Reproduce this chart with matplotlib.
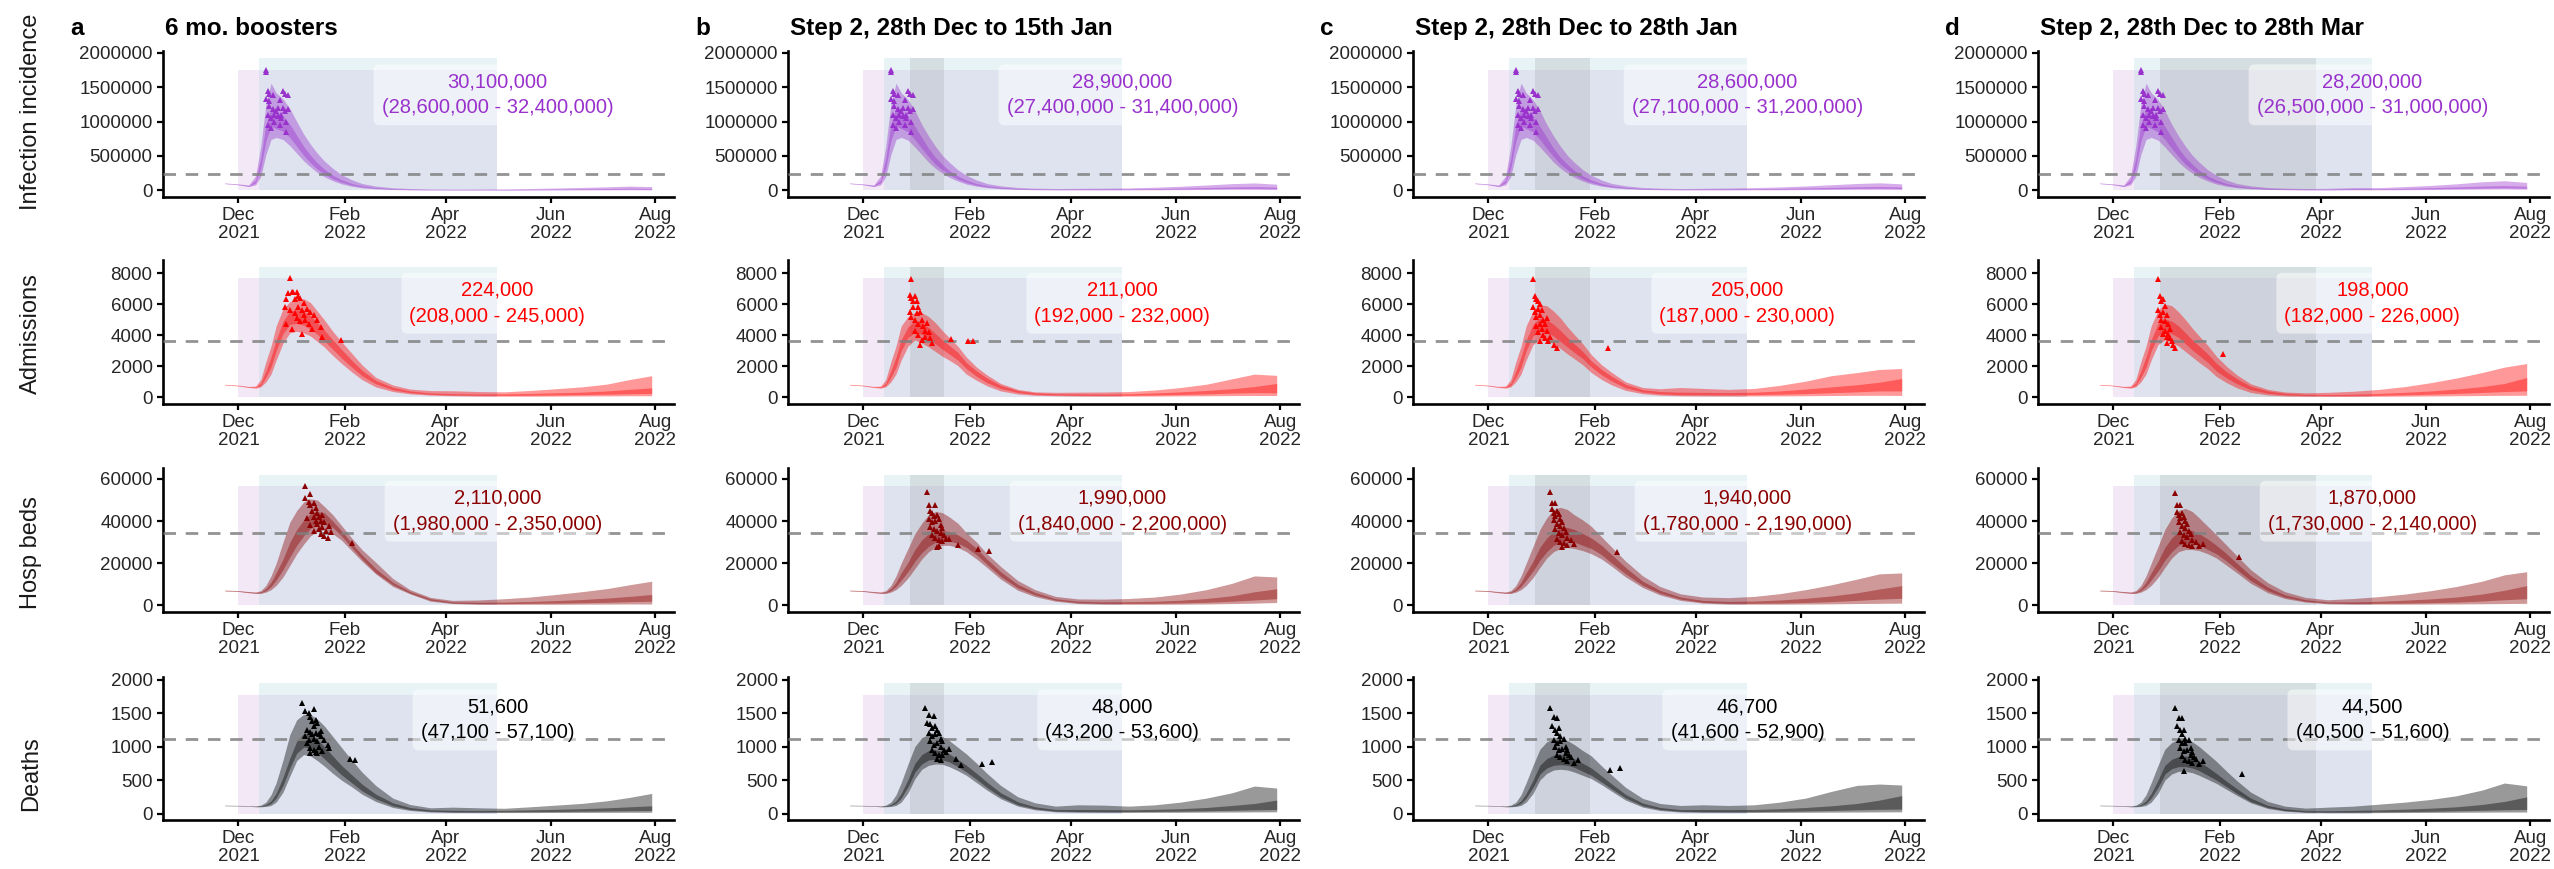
import matplotlib
matplotlib.use("Agg")
import matplotlib.pyplot as plt
import matplotlib.dates as mdates
from matplotlib.ticker import FixedLocator, FuncFormatter
import numpy as np

plt.rcParams['font.family'] = ['Liberation Sans', 'DejaVu Sans']

# Projections of the Omicron wave under four booster / step 2 scenarios.
# Ribbons: 95% (outer) and 50% (inner) intervals at knot days after 1 Dec 2021.
start = np.datetime64('2021-12-01')
days = [-8, 0, 6, 10, 13, 16, 19, 22, 26, 30, 34, 38, 42, 46, 50, 55,
        60, 66, 72, 80, 90, 100, 112, 125, 140, 155, 170, 185, 200, 215, 228, 241]

titles = ["6 mo. boosters", "Step 2, 28th Dec to 15th Jan",
          "Step 2, 28th Dec to 28th Jan", "Step 2, 28th Dec to 28th Mar"]
letters = ["a", "b", "c", "d"]
row_names = ["Infection incidence", "Admissions", "Hosp beds", "Deaths"]
# step 2 restriction periods (none for panel a)
step2 = [None, ('2021-12-28', '2022-01-17'), ('2021-12-28', '2022-01-29'),
         ('2021-12-28', '2022-03-29')]

# infections (thousands): lo95, lo50, hi50, hi95
inf_a = [
    [98, 80, 55, 80, 200, 520, 740, 770, 740, 650, 540, 430, 340, 260, 200, 140, 95, 60, 38, 22, 12, 7, 5, 4, 4, 4, 5, 6, 7, 8, 9, 8],
    [100, 84, 60, 110, 320, 720, 930, 900, 860, 770, 640, 510, 400, 310, 240, 170, 120, 78, 50, 30, 17, 11, 8, 7, 7, 7, 9, 11, 13, 15, 17, 15],
    [104, 88, 68, 150, 460, 960, 1200, 1150, 1080, 960, 800, 640, 510, 400, 310, 220, 155, 100, 65, 40, 24, 16, 12, 11, 11, 12, 15, 18, 22, 27, 32, 28],
    [108, 94, 78, 210, 640, 1250, 1560, 1420, 1330, 1190, 1000, 820, 670, 540, 430, 320, 230, 155, 100, 62, 38, 27, 21, 19, 20, 22, 27, 34, 42, 52, 62, 55],
]
inf_b = [
    [98, 80, 55, 80, 200, 520, 740, 770, 730, 630, 520, 410, 320, 250, 190, 135, 92, 60, 40, 24, 14, 9, 7, 7, 7, 7, 9, 11, 13, 15, 15, 12],
    [100, 84, 60, 110, 320, 720, 930, 900, 850, 740, 610, 490, 380, 300, 230, 165, 115, 76, 50, 32, 19, 13, 10, 11, 11, 12, 15, 19, 23, 27, 28, 24],
    [104, 88, 68, 150, 460, 960, 1200, 1150, 1070, 930, 770, 610, 480, 380, 290, 210, 150, 98, 66, 43, 27, 19, 15, 17, 18, 20, 26, 33, 42, 50, 55, 48],
    [108, 94, 78, 210, 640, 1250, 1560, 1420, 1320, 1160, 960, 790, 640, 510, 410, 300, 220, 150, 100, 66, 42, 32, 27, 30, 32, 36, 46, 60, 78, 98, 108, 90],
]
inf_c = [
    [98, 80, 55, 80, 200, 520, 740, 770, 730, 630, 520, 410, 320, 250, 190, 135, 92, 60, 40, 24, 14, 9, 7, 7, 7, 8, 9, 11, 13, 15, 16, 13],
    [100, 84, 60, 110, 320, 720, 930, 900, 850, 740, 610, 490, 380, 300, 230, 165, 115, 76, 50, 32, 19, 13, 10, 11, 12, 13, 16, 20, 24, 28, 30, 26],
    [104, 88, 68, 150, 460, 960, 1200, 1150, 1070, 930, 770, 610, 480, 380, 290, 210, 150, 98, 66, 43, 27, 19, 15, 17, 19, 22, 28, 36, 44, 52, 57, 50],
    [108, 94, 78, 210, 640, 1250, 1560, 1420, 1320, 1160, 960, 790, 640, 510, 410, 300, 220, 150, 100, 66, 42, 32, 27, 30, 34, 40, 50, 64, 82, 100, 110, 95],
]
inf_d = [
    [98, 80, 55, 80, 200, 520, 740, 770, 730, 630, 520, 410, 320, 250, 190, 135, 92, 60, 40, 24, 14, 9, 6, 6, 8, 8, 10, 12, 15, 18, 20, 16],
    [100, 84, 60, 110, 320, 720, 930, 900, 850, 740, 610, 490, 380, 300, 230, 165, 115, 76, 50, 32, 19, 13, 10, 10, 13, 13, 17, 22, 27, 32, 36, 30],
    [104, 88, 68, 150, 460, 960, 1200, 1150, 1070, 930, 770, 610, 480, 380, 290, 210, 150, 98, 66, 43, 27, 19, 15, 16, 22, 22, 30, 40, 50, 62, 70, 60],
    [108, 94, 78, 210, 640, 1250, 1560, 1420, 1320, 1160, 960, 790, 640, 510, 410, 300, 220, 150, 100, 66, 42, 32, 27, 30, 40, 40, 55, 72, 95, 125, 140, 115],
]

# hospital admissions
adm_a = [
    [800, 740, 640, 600, 680, 1000, 1500, 2400, 3500, 4150, 4250, 4150, 3950, 3600, 3250, 2700, 2200, 1650, 1150, 680, 380, 230, 150, 110, 90, 80, 80, 85, 95, 100, 110, 110],
    [815, 755, 660, 630, 780, 1300, 1950, 3000, 4100, 4700, 4750, 4650, 4400, 4050, 3650, 3100, 2550, 1950, 1400, 880, 500, 310, 200, 160, 140, 130, 140, 160, 180, 210, 240, 260],
    [830, 770, 680, 670, 920, 1700, 2600, 3700, 4900, 5550, 5650, 5550, 5250, 4800, 4350, 3700, 3100, 2400, 1750, 1100, 650, 420, 290, 250, 230, 230, 260, 300, 340, 420, 520, 620],
    [845, 790, 710, 730, 1150, 2300, 3300, 4600, 5700, 6150, 6350, 6350, 6100, 5550, 5000, 4250, 3600, 2850, 2100, 1300, 800, 540, 440, 430, 380, 360, 450, 560, 680, 860, 1150, 1400],
]
adm_b = [
    [800, 740, 640, 600, 680, 1000, 1500, 2400, 3300, 3700, 3500, 3250, 2950, 2650, 2400, 2050, 1500, 1100, 750, 420, 220, 140, 110, 95, 85, 85, 90, 100, 110, 120, 125, 125],
    [815, 755, 660, 630, 780, 1300, 1950, 3000, 3850, 4200, 4050, 3800, 3450, 3100, 2800, 2400, 1850, 1350, 950, 580, 320, 200, 160, 140, 130, 140, 160, 190, 230, 280, 310, 300],
    [830, 770, 680, 670, 920, 1700, 2600, 3700, 4550, 4900, 4800, 4500, 4100, 3700, 3350, 2900, 2250, 1700, 1250, 780, 450, 300, 240, 230, 220, 240, 290, 360, 450, 560, 700, 900],
    [845, 790, 710, 730, 1150, 2300, 3300, 4600, 5200, 5450, 5450, 5200, 4800, 4300, 3850, 3300, 2600, 1950, 1450, 900, 520, 360, 330, 340, 350, 380, 480, 640, 850, 1200, 1500, 1420],
]
adm_c = [
    [800, 740, 640, 600, 680, 1000, 1500, 2400, 3400, 3750, 3650, 3450, 3150, 2800, 2500, 2100, 1600, 1150, 800, 450, 240, 150, 110, 100, 95, 95, 100, 110, 125, 135, 140, 130],
    [815, 755, 660, 630, 780, 1300, 1950, 3000, 3950, 4300, 4200, 3950, 3600, 3250, 2900, 2500, 1950, 1450, 1050, 620, 350, 230, 180, 170, 165, 180, 210, 250, 300, 360, 420, 420],
    [830, 770, 680, 670, 920, 1700, 2600, 3700, 4700, 5100, 5000, 4700, 4300, 3850, 3450, 2950, 2350, 1800, 1350, 840, 500, 380, 340, 330, 310, 340, 420, 540, 680, 820, 980, 1220],
    [845, 790, 710, 730, 1150, 2300, 3300, 4600, 5550, 5950, 5900, 5550, 5100, 4550, 4050, 3450, 2750, 2100, 1600, 1000, 640, 560, 640, 580, 520, 580, 780, 1050, 1400, 1600, 1800, 1860],
]
adm_d = [
    [800, 740, 640, 600, 680, 1000, 1500, 2400, 3400, 3700, 3550, 3300, 2950, 2600, 2250, 1850, 1350, 950, 620, 320, 160, 100, 80, 70, 70, 75, 85, 95, 110, 125, 135, 140],
    [815, 755, 660, 630, 780, 1300, 1950, 3000, 3950, 4250, 4100, 3850, 3450, 3050, 2700, 2250, 1700, 1250, 880, 500, 270, 170, 130, 115, 120, 140, 170, 210, 260, 320, 380, 420],
    [830, 770, 680, 670, 920, 1700, 2600, 3700, 4750, 5050, 4900, 4600, 4150, 3700, 3300, 2800, 2200, 1650, 1200, 720, 420, 270, 200, 190, 210, 260, 330, 420, 540, 700, 900, 1280],
    [845, 790, 710, 730, 1150, 2300, 3300, 4600, 5600, 6000, 5900, 5500, 5000, 4450, 3950, 3350, 2650, 2000, 1450, 880, 520, 350, 300, 330, 400, 520, 700, 950, 1250, 1600, 1950, 2180],
]

# hospital beds occupied
bed_a = [
    [6900, 6600, 6000, 5700, 5700, 6300, 7500, 9500, 13500, 19000, 24500, 29000, 33000, 35000, 35800, 34000, 31000, 26000, 21000, 15000, 9000, 5500, 2000, 900, 600, 550, 550, 550, 600, 650, 700, 700],
    [7000, 6750, 6200, 5900, 6000, 7000, 9000, 12000, 17000, 23000, 28500, 33000, 36500, 38000, 38500, 37000, 33000, 27500, 22000, 15500, 9800, 5800, 2500, 1100, 800, 800, 1000, 1100, 1300, 1500, 1800, 2000],
    [7150, 6900, 6400, 6150, 6400, 8000, 11000, 15500, 22000, 30000, 36000, 40500, 43500, 44500, 44000, 40000, 35500, 29500, 24000, 17500, 11000, 6600, 3200, 1700, 1500, 1600, 1900, 2300, 2800, 3500, 4300, 5200],
    [7300, 7050, 6600, 6400, 7000, 9500, 14000, 20000, 30000, 39500, 45000, 49000, 50500, 50000, 47000, 43000, 38000, 32000, 26500, 20500, 12800, 7500, 3800, 2400, 2600, 3200, 4000, 5200, 6500, 8000, 9800, 11500],
]
bed_b = [
    [6900, 6600, 6000, 5700, 5700, 6300, 7500, 9500, 13000, 17500, 22000, 25500, 27500, 28500, 28500, 27500, 25500, 22000, 18000, 12500, 7200, 4200, 2000, 900, 600, 550, 550, 600, 700, 900, 1100, 1400],
    [7000, 6750, 6200, 5900, 6000, 7000, 9000, 12000, 16000, 21000, 25000, 28000, 30000, 30500, 30500, 29500, 27500, 24000, 19500, 13800, 8300, 5000, 2500, 1300, 950, 950, 1000, 1200, 1500, 2000, 2600, 3200],
    [7150, 6900, 6400, 6150, 6400, 8000, 11000, 15500, 20500, 26500, 31000, 34000, 35500, 35500, 35000, 33500, 31000, 27000, 22000, 16000, 10000, 6200, 3200, 2000, 1700, 1800, 2000, 2500, 3300, 4600, 6500, 7900],
    [7300, 7050, 6600, 6400, 7000, 9500, 14000, 20000, 27000, 34000, 39000, 43000, 44500, 44000, 42000, 39000, 34500, 30000, 24500, 18500, 11800, 7500, 4300, 3100, 3000, 3300, 4000, 5400, 7500, 10500, 14000, 13500],
]
bed_c = [
    [6900, 6600, 6000, 5700, 5700, 6300, 7500, 9500, 13200, 18000, 22500, 25500, 27000, 27500, 27000, 26000, 24500, 22000, 18500, 13500, 8500, 5000, 2400, 1100, 650, 600, 600, 650, 750, 900, 1000, 1100],
    [7000, 6750, 6200, 5900, 6000, 7000, 9000, 12000, 16300, 21500, 25500, 28500, 30000, 30500, 30000, 28500, 27000, 24000, 20000, 15000, 9500, 5800, 3000, 1500, 1000, 1000, 1150, 1400, 1800, 2400, 3000, 3400],
    [7150, 6900, 6400, 6150, 6400, 8000, 11000, 15500, 21000, 27500, 32000, 35000, 37000, 37000, 36000, 34000, 32000, 28500, 24000, 18000, 11500, 7200, 4000, 2400, 1900, 2100, 2600, 3400, 4500, 6000, 7800, 9400],
    [7300, 7050, 6600, 6400, 7000, 9500, 14000, 20000, 28000, 36000, 41500, 45500, 46500, 45500, 43000, 40500, 37500, 32500, 27500, 21000, 14000, 9000, 5500, 4000, 3700, 4300, 5600, 7500, 9800, 12500, 15000, 15400],
]
bed_d = [
    [6900, 6600, 6000, 5700, 5700, 6300, 7500, 9500, 13200, 18000, 22500, 25500, 26500, 26500, 26000, 24500, 22500, 19000, 15500, 10500, 6000, 3300, 1600, 800, 600, 600, 600, 650, 700, 800, 900, 1000],
    [7000, 6750, 6200, 5900, 6000, 7000, 9000, 12000, 16300, 21500, 25500, 28500, 29500, 29500, 28500, 26500, 24500, 21000, 17000, 11800, 7000, 3900, 2000, 1100, 900, 1000, 1100, 1300, 1600, 2100, 2700, 3200],
    [7150, 6900, 6400, 6150, 6400, 8000, 11000, 15500, 21000, 27500, 32000, 35000, 36000, 35500, 34000, 31500, 28500, 24500, 20000, 14200, 8700, 5000, 2700, 1700, 1700, 2000, 2500, 3100, 4000, 5400, 7200, 9400],
    [7300, 7050, 6600, 6400, 7000, 9500, 14000, 20000, 28000, 36000, 41500, 45000, 46000, 44500, 41500, 37500, 33500, 28500, 23500, 17000, 10800, 6500, 3800, 2700, 3300, 4200, 5400, 7000, 9000, 11500, 14500, 16000],
]

# deaths
dth_a = [
    [116, 114, 108, 100, 100, 105, 120, 170, 320, 560, 790, 880, 860, 790, 710, 600, 500, 400, 290, 180, 90, 45, 22, 15, 14, 14, 14, 15, 16, 17, 18, 18],
    [118, 116, 110, 103, 105, 118, 150, 230, 420, 680, 900, 990, 980, 910, 820, 700, 580, 460, 340, 220, 115, 60, 32, 25, 24, 25, 27, 30, 34, 38, 42, 45],
    [121, 119, 113, 107, 112, 135, 190, 300, 540, 830, 1080, 1190, 1190, 1110, 1000, 860, 720, 580, 440, 290, 160, 90, 55, 48, 45, 48, 55, 62, 72, 85, 100, 115],
    [124, 122, 116, 112, 125, 170, 280, 460, 800, 1180, 1400, 1480, 1480, 1410, 1310, 1150, 990, 800, 620, 420, 230, 135, 85, 95, 85, 78, 100, 125, 150, 190, 240, 300],
]
dth_b = [
    [116, 114, 108, 100, 100, 105, 120, 170, 310, 520, 660, 720, 740, 735, 700, 640, 570, 460, 350, 220, 110, 55, 25, 18, 16, 16, 17, 18, 20, 22, 24, 25],
    [118, 116, 110, 103, 105, 118, 150, 230, 400, 620, 740, 800, 810, 800, 770, 700, 620, 510, 390, 250, 130, 70, 35, 30, 28, 28, 31, 35, 40, 48, 55, 60],
    [121, 119, 113, 107, 112, 135, 190, 300, 510, 750, 880, 940, 950, 930, 890, 810, 720, 600, 470, 310, 175, 100, 60, 60, 58, 56, 62, 72, 90, 120, 150, 200],
    [124, 122, 116, 112, 125, 170, 280, 460, 740, 1000, 1130, 1185, 1190, 1150, 1090, 990, 890, 750, 600, 420, 250, 160, 110, 130, 125, 110, 130, 170, 230, 310, 410, 380],
]
dth_c = [
    [116, 114, 108, 100, 100, 105, 120, 170, 300, 500, 600, 650, 660, 650, 620, 570, 520, 430, 330, 200, 95, 45, 22, 16, 15, 15, 16, 18, 20, 22, 24, 25],
    [118, 116, 110, 103, 105, 118, 150, 230, 390, 590, 680, 720, 730, 720, 690, 630, 570, 470, 365, 230, 115, 60, 32, 28, 27, 28, 32, 38, 45, 55, 62, 66],
    [121, 119, 113, 107, 112, 135, 190, 300, 500, 720, 820, 870, 880, 860, 820, 750, 680, 560, 440, 285, 155, 90, 58, 60, 58, 60, 72, 90, 115, 150, 200, 267],
    [124, 122, 116, 112, 125, 170, 280, 460, 720, 960, 1070, 1120, 1125, 1090, 1030, 940, 860, 710, 570, 390, 225, 150, 120, 130, 120, 130, 170, 230, 330, 420, 440, 425],
]
dth_d = [
    [116, 114, 108, 100, 100, 105, 120, 170, 300, 500, 590, 630, 630, 610, 570, 510, 450, 360, 270, 160, 75, 35, 16, 12, 12, 13, 14, 16, 18, 20, 22, 22],
    [118, 116, 110, 103, 105, 118, 150, 230, 390, 590, 670, 700, 700, 680, 640, 570, 500, 400, 300, 180, 90, 45, 24, 20, 21, 24, 28, 33, 40, 48, 56, 60],
    [121, 119, 113, 107, 112, 135, 190, 300, 500, 720, 810, 850, 860, 830, 780, 690, 600, 480, 370, 230, 120, 70, 42, 42, 46, 55, 65, 80, 100, 135, 180, 248],
    [124, 122, 116, 112, 125, 170, 280, 460, 720, 960, 1060, 1110, 1120, 1070, 1000, 890, 780, 630, 490, 320, 180, 110, 80, 95, 110, 140, 170, 210, 265, 350, 455, 413],
]

# simulated peaks (day after 1 Dec, value)
inf_pts = [(16, 1745), (16, 1720), (16, 1330), (17, 1450), (17, 1100), (17, 950), (18, 1400), (18, 1300),
           (18, 1230), (19, 1050), (19, 900), (20, 1380), (20, 1180), (21, 1100), (21, 1000), (22, 1150),
           (23, 1080), (23, 1200), (24, 950), (25, 1100), (25, 1050), (26, 1450), (26, 1200), (27, 1400),
           (27, 1150), (28, 1000), (28, 850), (29, 1380), (29, 1180), (24, 1320)]
adm_pts_a = [(27, 5800), (28, 6300), (29, 6700), (30, 7700), (30, 5600), (31, 6800), (32, 6800), (33, 6300),
             (33, 5400), (34, 6800), (34, 5100), (35, 6500), (35, 5800), (36, 6400), (36, 4900), (37, 4100),
             (37, 5600), (38, 6100), (38, 5300), (39, 5000), (40, 5700), (41, 4700), (42, 5500), (43, 4400),
             (44, 5300), (46, 5000), (48, 4500), (49, 3900), (60, 3700), (28, 4700), (31, 4400)]
adm_pts_b = [(28, 7600), (27, 6600), (28, 6400), (29, 6200), (30, 6500), (31, 6200), (32, 5800), (27, 5500),
             (28, 5200), (29, 5800), (30, 5000), (31, 5400), (32, 4700), (33, 5500), (34, 5000), (35, 4600),
             (36, 4300), (37, 4800), (38, 4200), (30, 4300), (32, 4000), (34, 3700), (36, 3900), (39, 3800),
             (40, 3500), (33, 3400), (51, 3750), (61, 3650), (64, 3650)]
adm_pts_c = [(26, 7600), (27, 6500), (28, 6300), (29, 6200), (30, 6000), (26, 5800), (27, 5500), (28, 5200),
             (29, 5700), (30, 5300), (31, 5600), (32, 5000), (33, 4700), (34, 5100), (28, 4600), (29, 4200),
             (30, 4700), (31, 4400), (32, 4000), (33, 3800), (34, 4300), (35, 3600), (36, 3900), (38, 3400),
             (40, 3200), (30, 3600), (70, 3170)]
adm_pts_d = [(26, 7600), (27, 6500), (28, 6200), (29, 6300), (30, 5900), (26, 5600), (27, 5300), (28, 5000),
             (29, 5500), (30, 4900), (31, 5300), (32, 4700), (33, 4400), (28, 4500), (29, 4100), (30, 4300),
             (31, 3900), (32, 4100), (33, 3800), (34, 3600), (35, 3400), (36, 3200), (31, 3500), (64, 2800)]
bed_pts_a = [(39, 56500), (39, 50900), (41, 49000), (42, 53000), (42, 47500), (43, 45000), (44, 48500), (44, 42000),
             (45, 46000), (45, 40000), (46, 44000), (46, 38500), (47, 42000), (47, 36000), (48, 40000), (48, 34000),
             (49, 43000), (49, 37000), (50, 33000), (50, 39500), (51, 35500), (52, 32000), (53, 37500), (54, 35000),
             (40, 41500), (42, 38000), (44, 35500), (66, 29500)]
bed_pts_b = [(37, 53700), (38, 47700), (42, 47700), (39, 45000), (40, 44000), (41, 42500), (43, 43000), (38, 41000),
             (40, 39500), (42, 40000), (44, 41000), (45, 38000), (39, 37000), (41, 36000), (43, 35500), (45, 34500),
             (46, 36500), (47, 33500), (40, 33500), (42, 32000), (44, 31000), (46, 30500), (48, 31500), (44, 28000),
             (43, 27500), (50, 31500), (55, 28500), (67, 26700), (73, 25800)]
bed_pts_c = [(36, 53800), (37, 48500), (39, 48500), (37, 45500), (38, 44000), (39, 42500), (40, 45000), (41, 43500),
             (42, 41000), (38, 40500), (40, 38500), (42, 37500), (43, 39500), (44, 36500), (39, 36000), (41, 34500),
             (43, 33500), (45, 35000), (46, 32000), (40, 31500), (42, 30000), (44, 29500), (46, 28500), (48, 31000),
             (50, 29000), (43, 27500), (75, 25300)]
bed_pts_d = [(36, 53500), (37, 47500), (39, 47500), (37, 44500), (38, 43000), (39, 41500), (40, 44000), (41, 42000),
             (42, 40000), (38, 39500), (40, 37500), (42, 36500), (43, 38500), (44, 35500), (39, 35000), (41, 33500),
             (43, 32500), (45, 34000), (46, 31000), (40, 30500), (42, 29000), (44, 28500), (46, 28000), (48, 30000),
             (50, 28000), (52, 29000), (73, 22900)]
dth_pts_a = [(37, 1650), (39, 1530), (41, 1500), (44, 1560), (42, 1440), (43, 1380), (45, 1400), (44, 1300),
             (46, 1350), (40, 1250), (42, 1220), (43, 1180), (45, 1200), (47, 1180), (48, 1230), (39, 1150),
             (41, 1100), (44, 1120), (46, 1080), (48, 1150), (50, 1100), (40, 1050), (42, 980), (44, 950),
             (47, 1000), (49, 940), (52, 1030), (53, 980), (42, 910), (45, 920), (46, 900), (65, 820), (68, 800)]
dth_pts_b = [(36, 1570), (38, 1470), (41, 1450), (37, 1350), (39, 1330), (40, 1280), (42, 1300), (43, 1250),
             (38, 1200), (40, 1150), (42, 1180), (44, 1200), (45, 1120), (39, 1080), (41, 1030), (43, 1060),
             (45, 1000), (46, 1080), (47, 950), (40, 950), (42, 900), (44, 880), (46, 870), (48, 920),
             (50, 960), (43, 820), (45, 800), (54, 820), (57, 730), (69, 745), (75, 775)]
dth_pts_c = [(36, 1570), (38, 1440), (40, 1420), (37, 1300), (39, 1250), (40, 1200), (41, 1280), (42, 1150),
             (38, 1100), (40, 1050), (42, 1080), (44, 1120), (45, 1000), (39, 1000), (41, 950), (43, 970),
             (45, 900), (46, 950), (47, 880), (40, 880), (42, 840), (44, 820), (46, 780), (48, 850),
             (50, 760), (52, 800), (71, 650), (77, 680)]
dth_pts_d = [(36, 1570), (38, 1430), (40, 1420), (37, 1300), (39, 1250), (40, 1180), (41, 1250), (42, 1120),
             (38, 1100), (40, 1050), (42, 1060), (44, 1100), (45, 980), (39, 980), (41, 930), (43, 950),
             (45, 880), (46, 920), (47, 850), (40, 860), (42, 800), (44, 780), (46, 760), (48, 820),
             (50, 740), (41, 640), (52, 780), (75, 585)]

# cumulative totals: median, lower, upper
inf_totals = [(30100000, 28600000, 32400000), (28900000, 27400000, 31400000),
              (28600000, 27100000, 31200000), (28200000, 26500000, 31000000)]
adm_totals = [(224000, 208000, 245000), (211000, 192000, 232000),
              (205000, 187000, 230000), (198000, 182000, 226000)]
bed_totals = [(2110000, 1980000, 2350000), (1990000, 1840000, 2200000),
              (1940000, 1780000, 2190000), (1870000, 1730000, 2140000)]
dth_totals = [(51600, 47100, 57100), (48000, 43200, 53600),
              (46700, 41600, 52900), (44500, 40500, 51600)]

# previous-wave peak levels (dashed lines) and height of the shaded window
ref_levels = [234000, 3600, 34400, 1120]
row_max = [1755000, 7650, 56400, 1765]
row_ticks = [[0, 500000, 1000000, 1500000, 2000000], [0, 2000, 4000, 6000, 8000],
             [0, 20000, 40000, 60000], [0, 500, 1000, 1500, 2000]]
row_colours = ['#9932CC', '#FF0000', '#8B0000', '#000000']
row_scale = [1000, 1, 1, 1]

bands = [[inf_a, inf_b, inf_c, inf_d], [adm_a, adm_b, adm_c, adm_d],
         [bed_a, bed_b, bed_c, bed_d], [dth_a, dth_b, dth_c, dth_d]]
points = [[inf_pts] * 4, [adm_pts_a, adm_pts_b, adm_pts_c, adm_pts_d],
          [bed_pts_a, bed_pts_b, bed_pts_c, bed_pts_d], [dth_pts_a, dth_pts_b, dth_pts_c, dth_pts_d]]
totals = [inf_totals, adm_totals, bed_totals, dth_totals]

W, H = 2554, 869
fig = plt.figure(figsize=(W / 100, H / 100), dpi=100)
col_left = [163, 788, 1413, 2038]
ax_w = 511
row_top = [51, 260, 468, 677]
row_bot = [197, 404, 612, 820]
label_y = [112, 334, 553, 774]

x = start + np.array(days).astype('timedelta64[D]')
win_start = np.datetime64('2021-12-01')
cyan_start = np.datetime64('2021-12-13')
win_end = np.datetime64('2022-05-01')


def day_dates(pts):
    d = start + np.array([p[0] for p in pts]).astype('timedelta64[D]')
    v = np.array([p[1] for p in pts], dtype=float)
    return d, v


for r in range(4):
    top = row_max[r] * 1.1
    col = row_colours[r]
    for c in range(4):
        ax = fig.add_axes([col_left[c] / W, 1 - row_bot[r] / H,
                           ax_w / W, (row_bot[r] - row_top[r]) / H])
        # shaded windows
        ax.fill_between(np.array([win_start, win_end]), 0, row_max[r],
                        color='#F2E8F6', lw=0, zorder=1)
        ax.fill_between(np.array([cyan_start, win_end]), 0, top,
                        color='#B2DAE1', alpha=0.3, lw=0, zorder=1)
        if step2[c] is not None:
            s0, s1 = step2[c]
            ax.fill_between(np.array([np.datetime64(s0), np.datetime64(s1)]), 0, top,
                            color='#808080', alpha=0.17, lw=0, zorder=1)

        lo95, lo50, hi50, hi95 = [np.array(q, dtype=float) * row_scale[r] for q in bands[r][c]]
        ax.fill_between(x, lo95, hi95, color=col, alpha=0.4, lw=0, zorder=2)
        ax.fill_between(x, lo50, hi50, color=col, alpha=0.4, lw=0, zorder=2)

        ax.axhline(ref_levels[r], color='#808080', lw=2, dashes=(4.5, 3.5),
                   alpha=0.85, zorder=3)

        pd_, pv = day_dates(points[r][c])
        ax.plot(pd_, pv * row_scale[r], ls='none', marker='^', ms=4.2,
                mew=0, color=col, zorder=4)

        med, lo, hi = totals[r][c]
        ax.text(mdates.date2num(win_end), 0.72 * top,
                f"{med:,}\n({lo:,} - {hi:,})", ha='center', va='center',
                fontsize=14.5, color=col, linespacing=1.45, zorder=5,
                bbox=dict(boxstyle='round,pad=0.4,rounding_size=0.3',
                          fc='white', ec='none', alpha=0.5))

        ax.set_xlim(np.datetime64('2021-10-18'), np.datetime64('2022-08-12'))
        ax.set_ylim(-0.05 * top, 1.05 * top)
        ax.xaxis.set_major_locator(mdates.MonthLocator(bymonth=[12, 2, 4, 6, 8]))
        ax.xaxis.set_major_formatter(mdates.DateFormatter('%b\n%Y'))
        ax.yaxis.set_major_locator(FixedLocator(row_ticks[r]))
        ax.yaxis.set_major_formatter(FuncFormatter(lambda v, p: f"{v:.0f}"))
        for side in ['top', 'right']:
            ax.spines[side].set_visible(False)
        for side in ['left', 'bottom']:
            ax.spines[side].set_linewidth(1.9)
        ax.tick_params(axis='both', length=4.5, width=1.6, labelsize=13.5,
                       labelcolor='#262626', pad=3)
        for lab in ax.get_xticklabels():
            lab.set_linespacing(1.05)
        ax.set_facecolor('white')

    fig.text(31 / W, 1 - label_y[r] / H, row_names[r], rotation=90,
             ha='center', va='center', fontsize=17, color='#1a1a1a')

for c in range(4):
    fig.text((col_left[c] - 93) / W, 1 - 35 / H, letters[c], fontsize=17.5,
             fontweight='bold', va='baseline', ha='left')
    fig.text((col_left[c] + 2) / W, 1 - 35 / H, titles[c], fontsize=17.5,
             fontweight='bold', va='baseline', ha='left')

fig.savefig('out.png', dpi=100)
